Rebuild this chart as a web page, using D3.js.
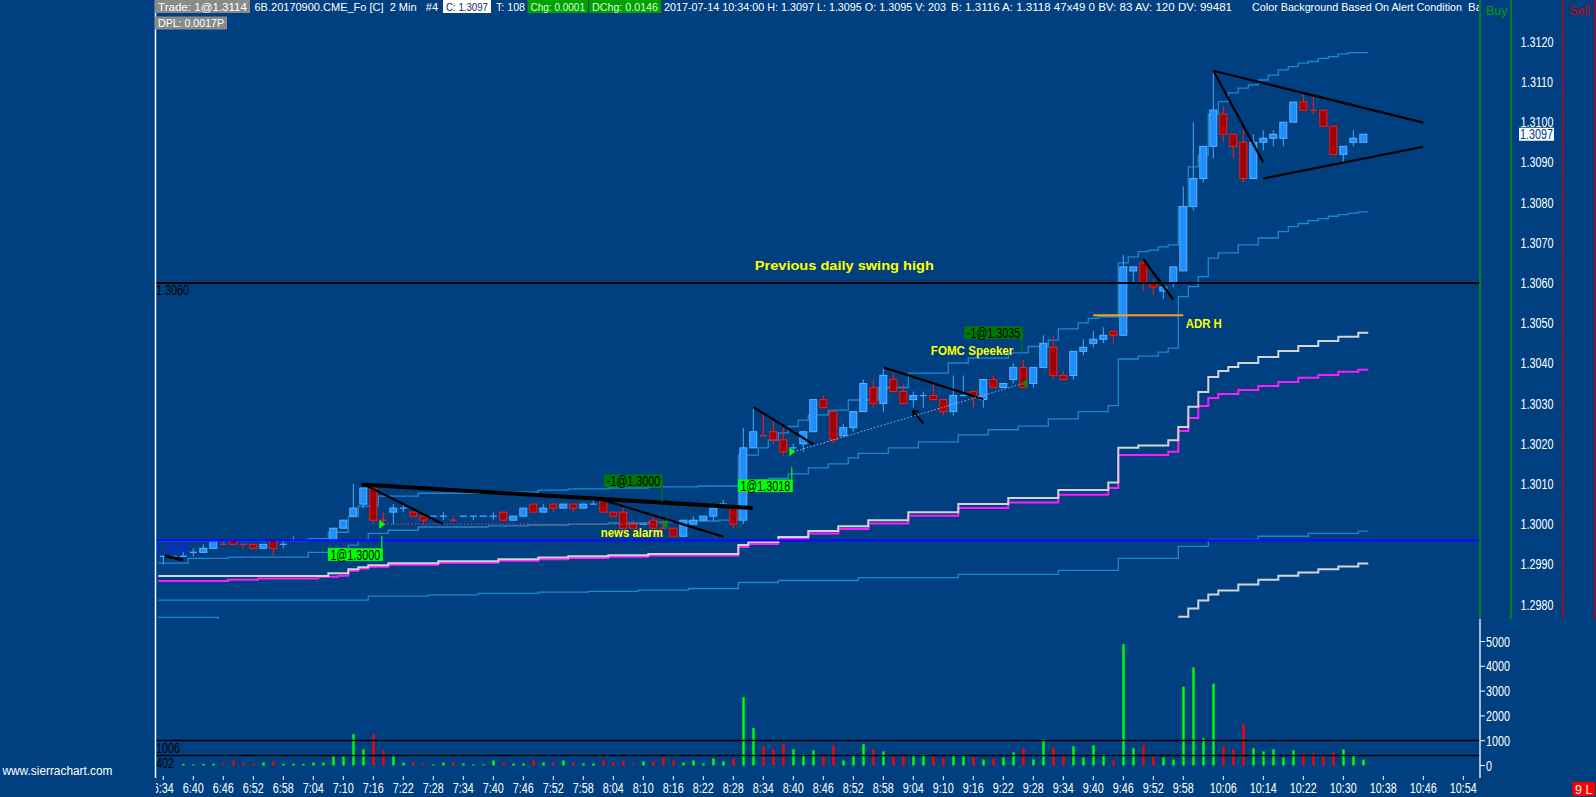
<!DOCTYPE html>
<html>
<head>
<meta charset="utf-8">
<title>6B 2 Min</title>
<script src="https://cdn.jsdelivr.net/npm/d3@7"></script>
<style>
  html, body { margin: 0; padding: 0; background: #004080; overflow: hidden; }
  svg { display: block; }
  text { font-family: "Liberation Sans", Arial, sans-serif; white-space: pre; }
</style>
</head>
<body>
<svg id="chart" width="1596" height="797"></svg>
<script>
// 2 minute bars, first bar 6:34 (394 minutes after midnight)
const firstBarMin = 394;

const open = [1.2992,1.2992,1.2992,1.2993,1.2993,1.2994,1.2995,1.2996,1.2995,1.2995,
  1.2994,1.2996,1.2995,1.2996,1.2996,1.2996,1.2996,1.2996,1.2999,1.3002,
  1.3005,1.3009,1.3001,1.3003,1.3004,1.3003,1.3002,1.3002,1.3002,1.3001,
  1.3002,1.3002,1.3002,1.3002,1.3003,1.3001,1.3002,1.3005,1.3003,1.3005,
  1.3004,1.3005,1.3004,1.3005,1.3006,1.3003,1.3003,1.3000,1.3000,1.3001,
  1.2999,1.2999,1.2997,1.3000,1.3001,1.3002,1.3005,1.3004,1.3001,1.3019,
  1.3022,1.3023,1.3021,1.3019,1.3020,1.3023,1.3031,1.3028,1.3022,1.3024,
  1.3028,1.3034,1.3030,1.3036,1.3033,1.3031,1.3032,1.3032,1.3031,1.3028,
  1.3032,1.3033,1.3031,1.3036,1.3034,1.3036,1.3039,1.3035,1.3039,1.3044,
  1.3037,1.3037,1.3043,1.3045,1.3046,1.3048,1.3047,1.3063,1.3065,1.3060,
  1.3058,1.3060,1.3063,1.3079,1.3086,1.3094,1.3102,1.3097,1.3095,1.3086,
  1.3095,1.3096,1.3096,1.3100,1.3105,1.3103,1.3103,1.3099,1.3092,1.3095,
  1.3095];
const high = [1.2992,1.2992,1.2993,1.2994,1.2995,1.2996,1.2996,1.2996,1.2995,1.2995,
  1.2995,1.2996,1.2996,1.2997,1.2996,1.2996,1.2996,1.2999,1.3001,1.3010,
  1.3009,1.3010,1.3003,1.3005,1.3005,1.3003,1.3002,1.3002,1.3003,1.3002,
  1.3002,1.3002,1.3002,1.3003,1.3003,1.3002,1.3004,1.3005,1.3005,1.3005,
  1.3005,1.3005,1.3005,1.3006,1.3006,1.3003,1.3004,1.3001,1.3000,1.3002,
  1.3001,1.2999,1.3001,1.3002,1.3002,1.3005,1.3006,1.3004,1.3024,1.3029,
  1.3028,1.3026,1.3024,1.3020,1.3023,1.3031,1.3032,1.3028,1.3025,1.3028,
  1.3036,1.3036,1.3039,1.3038,1.3035,1.3033,1.3033,1.3035,1.3031,1.3037,
  1.3037,1.3033,1.3036,1.3037,1.3035,1.3040,1.3041,1.3039,1.3047,1.3047,
  1.3038,1.3043,1.3046,1.3048,1.3049,1.3048,1.3067,1.3064,1.3066,1.3061,
  1.3059,1.3064,1.3084,1.3100,1.3094,1.3113,1.3104,1.3097,1.3098,1.3097,
  1.3098,1.3098,1.3100,1.3105,1.3107,1.3107,1.3103,1.3099,1.3094,1.3098,
  1.3097];
const low = [1.2990,1.2991,1.2992,1.2992,1.2993,1.2994,1.2995,1.2995,1.2994,1.2994,
  1.2994,1.2992,1.2994,1.2996,1.2996,1.2996,1.2996,1.2996,1.2999,1.3002,
  1.3004,1.3000,1.3000,1.3000,1.3003,1.3002,1.3000,1.3002,1.3001,1.3001,
  1.3002,1.3001,1.3002,1.3001,1.3001,1.3001,1.3002,1.3003,1.3003,1.3003,
  1.3004,1.3003,1.3004,1.3005,1.3003,1.3002,1.2999,1.2999,1.3000,1.2999,
  1.2999,1.2997,1.2997,1.3000,1.3001,1.3001,1.3005,1.2999,1.3000,1.3019,
  1.3022,1.3020,1.3017,1.3018,1.3018,1.3023,1.3029,1.3020,1.3022,1.3023,
  1.3028,1.3029,1.3028,1.3033,1.3030,1.3029,1.3029,1.3031,1.3027,1.3027,
  1.3032,1.3029,1.3029,1.3034,1.3034,1.3035,1.3034,1.3034,1.3039,1.3036,
  1.3036,1.3036,1.3042,1.3044,1.3045,1.3045,1.3047,1.3060,1.3058,1.3057,
  1.3056,1.3059,1.3063,1.3078,1.3085,1.3091,1.3095,1.3091,1.3085,1.3086,
  1.3093,1.3094,1.3094,1.3100,1.3103,1.3102,1.3099,1.3092,1.3090,1.3094,
  1.3095];
const close = [1.2992,1.2992,1.2992,1.2993,1.2994,1.2996,1.2995,1.2995,1.2995,1.2994,
  1.2995,1.2994,1.2995,1.2996,1.2996,1.2996,1.2996,1.2999,1.3001,1.3004,
  1.3009,1.3001,1.3001,1.3004,1.3004,1.3002,1.3001,1.3002,1.3002,1.3001,
  1.3002,1.3002,1.3002,1.3002,1.3001,1.3002,1.3004,1.3003,1.3004,1.3004,
  1.3005,1.3004,1.3005,1.3005,1.3003,1.3002,1.2999,1.2999,1.3000,1.2999,
  1.2999,1.2997,1.3001,1.3001,1.3002,1.3004,1.3005,1.3000,1.3019,1.3023,
  1.3022,1.3021,1.3018,1.3019,1.3023,1.3031,1.3029,1.3021,1.3024,1.3028,
  1.3035,1.3030,1.3037,1.3033,1.3030,1.3032,1.3032,1.3031,1.3028,1.3032,
  1.3032,1.3032,1.3036,1.3034,1.3035,1.3039,1.3034,1.3039,1.3045,1.3037,
  1.3036,1.3043,1.3044,1.3046,1.3047,1.3047,1.3064,1.3064,1.3060,1.3059,
  1.3059,1.3064,1.3079,1.3086,1.3094,1.3103,1.3097,1.3094,1.3086,1.3095,
  1.3096,1.3097,1.3100,1.3105,1.3103,1.3103,1.3099,1.3092,1.3094,1.3096,
  1.3097];
const volume = [0,0,68,41,68,68,68,204,122,68,
  122,163,68,68,68,122,122,367,367,1264,
  652,1264,611,367,109,122,68,41,122,122,
  82,41,41,204,122,82,82,204,122,122,
  204,122,82,82,204,122,204,82,163,163,
  326,204,122,204,82,285,163,285,2758,1508,
  774,652,856,652,448,611,380,815,204,380,
  856,652,571,380,380,380,448,380,285,380,
  380,326,245,285,326,530,693,245,1060,734,
  448,774,326,815,448,204,4891,693,815,380,
  326,245,3179,3954,1100,3302,774,652,1671,693,
  571,652,326,611,489,489,380,530,652,380,
  245];

// study lines, stepped: [bar index where the value starts, price]
const vwapLine = [[0,1.29871],[17,1.29878],[19,1.29888],[20,1.29893],[21,1.29898],[23,1.29903],[28,1.29908],
  [34,1.29913],[38,1.29917],[41,1.29920],[45,1.29923],[49,1.29926],[58,1.29948],[59,1.29956],[62,1.29968],
  [65,1.29983],[68,1.29995],[71,1.30010],[75,1.30030],[80,1.30050],[85,1.30065],[90,1.30085],[95,1.30104],
  [96,1.30190],[98,1.30196],[101,1.30209],[102,1.30242],[103,1.30292],[104,1.30329],[105,1.30366],
  [106,1.30381],[107,1.30391],[108,1.30401],[110,1.30416],[112,1.30431],[114,1.30443],[116,1.30456],
  [118,1.30466],[120,1.30476]];
const vwapAlt = [[0,1.29859],[7,1.29862],[10,1.29865],[16,1.29869],[18,1.29872],[19,1.29884],[20,1.29890],
  [21,1.29894],[23,1.29899],[28,1.29904],[34,1.29909],[38,1.29913],[41,1.29916],[45,1.29919],[49,1.29922],
  [58,1.29943],[59,1.29951],[62,1.29963],[65,1.29977],[68,1.29988],[71,1.30002],[75,1.30021],[80,1.30040],
  [85,1.30054],[90,1.30073],[95,1.30090],[96,1.30172],[101,1.30180],[102,1.30232],[103,1.30264],
  [104,1.30294],[105,1.30314],[106,1.30324],[108,1.30334],[110,1.30344],[112,1.30354],[114,1.30364],
  [116,1.30371],[118,1.30379],[120,1.30384]];
const vwapLower = [[102,1.29770],[103,1.29790],[104,1.29810],[105,1.29825],[106,1.29835],[108,1.29850],
  [110,1.29862],[112,1.29872],[114,1.29880],[116,1.29888],[118,1.29895],[120,1.29902]];
const bandUpper = [[0,1.29958],[15,1.29964],[17,1.29980],[19,1.30019],[20,1.30045],[22,1.30070],[26,1.30077],
  [33,1.30080],[38,1.30085],[41,1.30088],[45,1.30090],[49,1.30093],[54,1.30095],[58,1.30172],[60,1.30190],
  [61,1.30209],[62,1.30227],[63,1.30243],[64,1.30259],[65,1.30272],[67,1.30284],[69,1.30309],[72,1.30340],
  [75,1.30376],[79,1.30401],[81,1.30413],[85,1.30426],[87,1.30442],[89,1.30458],[90,1.30486],[92,1.30501],
  [93,1.30512],[94,1.30516],[96,1.30650],[97,1.30665],[98,1.30678],[99,1.30682],[100,1.30690],[101,1.30695],
  [102,1.30790],[103,1.30889],[104,1.30918],[105,1.31020],[106,1.31051],[107,1.31073],[108,1.31085],
  [109,1.31093],[110,1.31105],[111,1.31117],[112,1.31130],[113,1.31138],[114,1.31147],[115,1.31151],
  [116,1.31159],[117,1.31163],[118,1.31170],[119,1.31173]];
const bandLower = [[0,1.29903],[3,1.29915],[7,1.29918],[15,1.29930],[17,1.29940],[19,1.29948],[20,1.29960],
  [21,1.29977],[23,1.29985],[26,1.29993],[33,1.29996],[37,1.29998],[41,1.30000],[45,1.30003],[49,1.30005],
  [53,1.30008],[56,1.30010],[58,1.30100],[60,1.30110],[61,1.30114],[63,1.30125],[65,1.30140],[67,1.30150],
  [69,1.30165],[70,1.30176],[73,1.30190],[76,1.30205],[80,1.30222],[83,1.30235],[86,1.30244],[89,1.30262],
  [92,1.30280],[95,1.30295],[96,1.30411],[98,1.30418],[100,1.30428],[101,1.30438],[102,1.30566],
  [103,1.30591],[104,1.30616],[105,1.30662],[106,1.30675],[108,1.30695],[110,1.30712],[112,1.30728],
  [113,1.30740],[114,1.30748],[115,1.30755],[116,1.30760],[117,1.30766],[118,1.30770],[119,1.30774],
  [120,1.30777]];
const bandLower2 = [[0,1.29811],[21,1.29821],[27,1.29824],[32,1.29828],[38,1.29831],[43,1.29833],[48,1.29836],
  [53,1.29840],[58,1.29855],[62,1.29860],[70,1.29867],[80,1.29875],[90,1.29885],[96,1.29915],[102,1.29945],
  [105,1.29962],[110,1.29970],[115,1.29977],[120,1.29983]];
const bandLower3 = [[0,1.29768],[6,1.29740]];

// drawn levels and tools (time in minutes, price)
const blueLevel = 1.2996;
const swingHigh = 1.3060;
const adrHigh = 1.3052;
const adrSpan = [580, 598];
const trendMain = [[433.6, 1.30099], [511.9, 1.30040]];
const trendLines = [
  [[394.3, 1.29921], [398, 1.29911]],
  [[434, 1.30100], [450, 1.30000]],
  [[482, 1.30060], [506, 1.29969]],
  [[512, 1.30291], [524, 1.30199]],
  [[538, 1.30390], [558, 1.30311]],
  [[590, 1.30659], [596, 1.30559]],
  [[604, 1.31128], [614, 1.30900]],
  [[604, 1.31128], [646, 1.30999]],
  [[614, 1.30860], [646, 1.30939]]
];
const arrowLine = [[546, 1.30251], [543.9, 1.30282]];
const trades = [
  { label: '1@1.3000', t: 438, p: 1.3000, entry: true },
  { label: '-1@1.3000', t: 494, p: 1.3000, entry: false },
  { label: '1@1.3018', t: 520, p: 1.3018, entry: true },
  { label: '-1@1.3035', t: 566, p: 1.3035, entry: false }
];
const notes = [
  { text: 'Previous daily swing high', t: 512.3, p: 1.30632 },
  { text: 'news alarm', t: 481.5, p: 1.29968 },
  { text: 'FOMC Speeker', t: 547.5, p: 1.30422 },
  { text: 'ADR H', t: 598.5, p: 1.30488 }
];
const volLevels = [1006, 402];

const priceTicks = [1.2980,1.2990,1.3000,1.3010,1.3020,1.3030,1.3040,1.3050,1.3060,1.3070,1.3080,1.3090,1.3100,1.3110,1.3120];
const volTicks = [0, 1000, 2000, 3000, 4000, 5000];
const timeLabels = ['6:34','6:40','6:46','6:52','6:58','7:04','7:10','7:16','7:22','7:28','7:34','7:40','7:46',
  '7:52','7:58','8:04','8:10','8:16','8:22','8:28','8:34','8:40','8:46','8:52','8:58','9:04','9:10','9:16',
  '9:22','9:28','9:34','9:40','9:46','9:52','9:58','10:06','10:14','10:22','10:30','10:38','10:46','10:54'];

const header1 = [
  { text: 'Trade: 1@1.3114', x0: 155, x1: 250, bg: '#8a8a8a', fg: '#ffffff' },
  { text: '6B.20170900.CME_Fo [C]  2 Min   #4', x0: 254.5, x1: 438, fg: '#ffffff' },
  { text: 'C: 1.3097', x0: 443, x1: 491, bg: '#ffffff', fg: '#0a2a6a' },
  { text: 'T: 108', x0: 496, x1: 525, fg: '#ffffff' },
  { text: 'Chg: 0.0001', x0: 527.5, x1: 588, bg: '#00a000', fg: '#d8ffd8' },
  { text: 'DChg: 0.0146', x0: 589, x1: 661, bg: '#00a000', fg: '#d8ffd8' },
  { text: '2017-07-14 10:34:00 H: 1.3097 L: 1.3095 O: 1.3095 V: 203', x0: 664, x1: 946, fg: '#ffffff' },
  { text: 'B: 1.3116 A: 1.3118 47x49 0 BV: 83 AV: 120 DV: 99481', x0: 951, x1: 1232, fg: '#ffffff' },
  { text: 'Color Background Based On Alert Condition', x0: 1252, x1: 1462, fg: '#ffffff' },
  { text: 'Ba', x0: 1468, x1: 1482, fg: '#ffffff' }
];
const header2 = [{ text: 'DPL: 0.0017P', x0: 155, x1: 227, bg: '#8a8a8a', fg: '#ffffff' }];

// ---------------------------------------------------------------
const svg = d3.select('#chart');
const left = 155, right = 1480, paneBottom = 619, volTop = 620, volBottom = 778;
const lastBar = open.length - 1;

const x = d3.scaleLinear().domain([394, 654]).range([163.3, 1463.3]);
const y = d3.scaleLinear().domain([1.2980, 1.3120]).range([604.6, 41.8]);
const yv = d3.scaleLinear().domain([0, 5000]).range([765.5, 641.5]);

const bars = open.map((o, i) => ({ t: firstBarMin + 2 * i, o, h: high[i], l: low[i], c: close[i], v: volume[i] }));
bars.forEach((d, i) => {
  const p = bars[i - 1];
  if (d.c !== d.o) d.up = d.c > d.o;
  else if (!p) d.up = true;
  else if (d.c !== p.c) d.up = d.c > p.c;
  else d.up = p.up;
});

// the chart font is narrow, so squeeze Liberation Sans sideways
const NARROW = 0.77;
function squeeze(sel, k) {
  sel.each(function () {
    const w = this.getComputedTextLength();
    this.setAttribute('textLength', w * (k || NARROW));
    this.setAttribute('lengthAdjust', 'spacingAndGlyphs');
  });
}

const defs = svg.append('defs');
defs.append('clipPath').attr('id', 'clipPrice').append('rect')
  .attr('x', left).attr('y', 0).attr('width', right - left).attr('height', paneBottom);
defs.append('clipPath').attr('id', 'clipVol').append('rect')
  .attr('x', left).attr('y', volTop).attr('width', right - left).attr('height', volBottom - volTop);
defs.append('clipPath').attr('id', 'clipHead').append('rect')
  .attr('x', 0).attr('y', 0).attr('width', 1479).attr('height', 40);
defs.append('clipPath').attr('id', 'clipTime').append('rect')
  .attr('x', left + 1).attr('y', volBottom - 5).attr('width', right - left).attr('height', 30);

const price = svg.append('g').attr('clip-path', 'url(#clipPrice)');
const vol = svg.append('g').attr('clip-path', 'url(#clipVol)');

// stepped study lines
const stepLine = d3.line().curve(d3.curveStepAfter);
function stepPoints(pts) {
  const out = pts.map(([i, p]) => [x(firstBarMin + 2 * i - 1), y(p)]);
  out.push([x(firstBarMin + 2 * lastBar + 1), out[out.length - 1][1]]);
  return out;
}
[bandLower3, bandLower2, bandLower, bandUpper].forEach(b => {
  price.append('path').attr('d', stepLine(stepPoints(b)))
    .attr('fill', 'none').attr('stroke', '#1e88cc').attr('stroke-width', 1.3);
});
price.append('path').attr('d', stepLine(stepPoints(vwapLower)))
  .attr('fill', 'none').attr('stroke', '#d4d4d4').attr('stroke-width', 2);
price.append('path').attr('d', stepLine(stepPoints(vwapAlt)))
  .attr('fill', 'none').attr('stroke', '#ff1aff').attr('stroke-width', 2);
price.append('path').attr('d', stepLine(stepPoints(vwapLine)))
  .attr('fill', 'none').attr('stroke', '#d4d4d4').attr('stroke-width', 2);

// candles
const candles = price.selectAll('g.candle')
  .data(bars)
  .join('g')
  .attr('class', 'candle')
  .attr('transform', d => `translate(${x(d.t)},0)`);

candles.filter(d => d.h !== d.l)
  .append('line')
  .attr('y1', d => y(d.h)).attr('y2', d => y(d.l))
  .attr('stroke', d => d.up ? '#4aa8ff' : '#ff1a1a')
  .attr('stroke-width', 1);

candles.filter(d => d.o !== d.c)
  .append('rect')
  .attr('x', -3.5).attr('width', 7)
  .attr('y', d => y(Math.max(d.o, d.c)))
  .attr('height', d => Math.abs(y(d.o) - y(d.c)))
  .attr('fill', d => d.up ? '#1e8fff' : '#a00000')
  .attr('stroke', d => d.up ? '#5ab4ff' : '#ff1a1a')
  .attr('stroke-width', 1);

candles.filter(d => d.o === d.c)
  .append('line')
  .attr('x1', -3.5).attr('x2', 3.5)
  .attr('y1', d => y(d.c)).attr('y2', d => y(d.c))
  .attr('stroke', d => d.up ? '#4aa8ff' : '#ff1a1a')
  .attr('stroke-width', 1.3);

// ADR high
price.append('line')
  .attr('x1', x(adrSpan[0])).attr('x2', x(adrSpan[1]))
  .attr('y1', y(adrHigh)).attr('y2', y(adrHigh))
  .attr('stroke', '#ff9a22').attr('stroke-width', 2);

// horizontal levels
price.append('line').attr('x1', left).attr('x2', right)
  .attr('y1', y(swingHigh)).attr('y2', y(swingHigh))
  .attr('stroke', '#000').attr('stroke-width', 2);
price.append('line').attr('x1', left).attr('x2', right)
  .attr('y1', y(blueLevel)).attr('y2', y(blueLevel))
  .attr('stroke', '#0a0aff').attr('stroke-width', 2.2);

// trend lines
const seg = d3.line().x(d => x(d[0])).y(d => y(d[1]));
price.append('path').attr('d', seg(trendMain))
  .attr('stroke', '#000').attr('stroke-width', 4).attr('fill', 'none');
price.selectAll('path.trend')
  .data(trendLines)
  .join('path')
  .attr('class', 'trend')
  .attr('d', seg)
  .attr('stroke', '#000')
  .attr('stroke-width', (d, i) => i === 0 ? 3 : 2.2)
  .attr('fill', 'none');

// small arrow
const [aFrom, aTo] = arrowLine.map(d => [x(d[0]), y(d[1])]);
price.append('line').attr('x1', aFrom[0]).attr('y1', aFrom[1]).attr('x2', aTo[0]).attr('y2', aTo[1])
  .attr('stroke', '#000').attr('stroke-width', 2);
price.append('path')
  .attr('d', `M${aTo[0]},${aTo[1]} l1,6 M${aTo[0]},${aTo[1]} l6,1`)
  .attr('stroke', '#000').attr('stroke-width', 2).attr('fill', 'none');

// trade lines and markers
const tradePairs = [[trades[0], trades[1], '#ff3030'], [trades[2], trades[3], '#aab6c6']];
tradePairs.forEach(([a, b, col]) => {
  price.append('line')
    .attr('x1', x(a.t)).attr('y1', y(a.p)).attr('x2', x(b.t)).attr('y2', y(b.p))
    .attr('stroke', col).attr('stroke-width', 1).attr('stroke-dasharray', '1.5,2');
});
trades.forEach(d => {
  const px = x(d.t), py = y(d.p);
  const pts = d.entry
    ? [[px - 4, py - 4.5], [px + 2, py], [px - 4, py + 4.5]]
    : [[px + 4, py - 4.5], [px - 2, py], [px + 4, py + 4.5]];
  price.append('path').attr('d', 'M' + pts.join('L') + 'Z')
    .attr('fill', d.entry ? '#00ff00' : '#009000');
});

// fill labels for the trades
const labelOffsets = [24, -37, 27.6, -44.5];
const stemLength = [12.5, 14.5, 12.3, 12.7];
trades.forEach((d, i) => {
  const px = x(d.t), py = y(d.p);
  const g = price.append('g');
  const txt = g.append('text')
    .attr('font-size', 14).attr('fill', '#000').text(d.label);
  const w0 = txt.node().getComputedTextLength() * NARROW;
  txt.attr('textLength', w0).attr('lengthAdjust', 'spacingAndGlyphs');
  const w = w0 + 5;
  const boxRight = px - 0.5;
  const boxTop = labelOffsets[i] > 0 ? py + labelOffsets[i] : py + labelOffsets[i] - 12.7;
  g.insert('rect', 'text')
    .attr('x', boxRight - w).attr('y', boxTop).attr('width', w).attr('height', 12.7)
    .attr('fill', d.entry ? '#00ff00' : '#007a00');
  txt.attr('x', boxRight - w + 2.5).attr('y', boxTop + 11.3);
  const stemTop = labelOffsets[i] > 0 ? boxTop - stemLength[i] : boxTop + 12.7;
  g.append('line')
    .attr('x1', boxRight - 1).attr('x2', boxRight - 1)
    .attr('y1', stemTop).attr('y2', stemTop + stemLength[i])
    .attr('stroke', d.entry ? '#00ff00' : '#007a00').attr('stroke-width', 1.2);
});

// yellow notes, widths as drawn in the chart
const noteWidths = [179, 62, 82.5, 36];
price.selectAll('text.note')
  .data(notes)
  .join('text')
  .attr('class', 'note')
  .attr('x', d => x(d.t)).attr('y', d => y(d.p))
  .attr('fill', '#ffff00').attr('font-weight', 'bold').attr('font-size', 12.5)
  .attr('textLength', (d, i) => noteWidths[i]).attr('lengthAdjust', 'spacingAndGlyphs')
  .text(d => d.text);

// level labels at the left
const lvl1 = svg.append('text').attr('x', 156).attr('y', y(swingHigh) + 12)
  .attr('font-size', 14).attr('fill', '#000').text(d3.format('.4f')(swingHigh));
squeeze(lvl1);
const lvl2 = svg.append('text').attr('x', 156).attr('y', y(blueLevel) + 13)
  .attr('font-size', 14).attr('fill', '#1a1aff').text(d3.format('.4f')(blueLevel));
squeeze(lvl2);

// volume pane
vol.selectAll('rect.vbar')
  .data(bars.filter(d => d.v > 0))
  .join('rect')
  .attr('class', 'vbar')
  .attr('x', d => x(d.t) - 1).attr('width', 2.4)
  .attr('y', d => yv(d.v)).attr('height', d => yv(0) - yv(d.v))
  .attr('fill', d => d.up ? '#00ff00' : '#ff0000');

vol.selectAll('line.vlevel')
  .data(volLevels)
  .join('line')
  .attr('class', 'vlevel')
  .attr('x1', left).attr('x2', right)
  .attr('y1', d => yv(d)).attr('y2', d => yv(d))
  .attr('stroke', '#000').attr('stroke-width', 1.5);
const vlt = vol.selectAll('text.vlevel')
  .data(volLevels)
  .join('text')
  .attr('class', 'vlevel')
  .attr('x', 156).attr('y', d => yv(d) + 12.3)
  .attr('font-size', 14).attr('fill', '#000')
  .text(d => d);
squeeze(vlt);

// frame lines
svg.append('line').attr('x1', left + 0.5).attr('x2', left + 0.5).attr('y1', 0).attr('y2', volBottom)
  .attr('stroke', '#fff').attr('stroke-width', 1.5);
svg.append('line').attr('x1', right).attr('x2', right).attr('y1', 0).attr('y2', paneBottom)
  .attr('stroke', '#00a000').attr('stroke-width', 1.3);
svg.append('line').attr('x1', 1511).attr('x2', 1511).attr('y1', 0).attr('y2', paneBottom)
  .attr('stroke', '#00a000').attr('stroke-width', 1.3);
svg.append('line').attr('x1', 1563).attr('x2', 1563).attr('y1', 0).attr('y2', paneBottom)
  .attr('stroke', '#d00000').attr('stroke-width', 1.3);
svg.append('line').attr('x1', 1594.5).attr('x2', 1594.5).attr('y1', 0).attr('y2', paneBottom)
  .attr('stroke', '#d00000').attr('stroke-width', 1.3);
svg.append('line').attr('x1', right).attr('x2', right).attr('y1', paneBottom).attr('y2', volBottom)
  .attr('stroke', '#fff').attr('stroke-width', 1.3);

svg.append('text').attr('x', 1486).attr('y', 15).attr('font-size', 12.5).attr('fill', '#00a000').text('Buy');
svg.append('text').attr('x', 1569).attr('y', 15).attr('font-size', 12.5).attr('fill', '#d00000').text('Sell');

// price axis (the label under the last price box is covered, as in the chart)
const lastClose = close[lastBar];
const pl = svg.selectAll('text.plabel')
  .data(priceTicks.filter(d => Math.abs(y(d) - y(lastClose)) > 8))
  .join('text')
  .attr('class', 'plabel')
  .attr('x', 1537).attr('y', d => y(d) + 5)
  .attr('text-anchor', 'middle').attr('font-size', 14).attr('fill', '#fff')
  .text(d => d3.format('.4f')(d));
squeeze(pl);

svg.append('rect').attr('x', 1519).attr('y', y(lastClose) - 6.5).attr('width', 35).attr('height', 13)
  .attr('fill', '#fff');
const lc = svg.append('text').attr('x', 1536.5).attr('y', y(lastClose) + 5)
  .attr('text-anchor', 'middle').attr('font-size', 14).attr('fill', '#00407f')
  .text(d3.format('.4f')(lastClose));
squeeze(lc);

// the covered tick still peeks out above the box
const covered = priceTicks.filter(d => Math.abs(y(d) - y(lastClose)) <= 8);
const peek = svg.append('g');
peek.append('clipPath').attr('id', 'clipPeek').append('rect')
  .attr('x', 1515).attr('y', 0).attr('width', 45).attr('height', y(lastClose) - 6.5);
const pk = peek.selectAll('text')
  .data(covered)
  .join('text')
  .attr('clip-path', 'url(#clipPeek)')
  .attr('x', 1537).attr('y', d => y(d) + 5)
  .attr('text-anchor', 'middle').attr('font-size', 14).attr('fill', '#fff')
  .text(d => d3.format('.4f')(d));
squeeze(pk);

// volume axis
svg.selectAll('line.vtick')
  .data(volTicks)
  .join('line')
  .attr('class', 'vtick')
  .attr('x1', right).attr('x2', right + 5)
  .attr('y1', d => yv(d)).attr('y2', d => yv(d))
  .attr('stroke', '#fff');
const vl = svg.selectAll('text.vlabel')
  .data(volTicks)
  .join('text')
  .attr('class', 'vlabel')
  .attr('x', right + 6).attr('y', d => yv(d) + 5)
  .attr('font-size', 14).attr('fill', '#fff')
  .text(d => d);
squeeze(vl);

// time axis
const toMin = s => { const [h, m] = s.split(':').map(Number); return h * 60 + m; };
const tg = svg.append('g').attr('clip-path', 'url(#clipTime)');
tg.selectAll('line.ttick')
  .data(timeLabels)
  .join('line')
  .attr('class', 'ttick')
  .attr('x1', d => x(toMin(d))).attr('x2', d => x(toMin(d)))
  .attr('y1', 776).attr('y2', 780)
  .attr('stroke', '#fff');
const tl = tg.selectAll('text.tlabel')
  .data(timeLabels)
  .join('text')
  .attr('class', 'tlabel')
  .attr('x', d => x(toMin(d))).attr('y', 793)
  .attr('text-anchor', 'middle').attr('font-size', 14).attr('fill', '#fff')
  .text(d => d);
squeeze(tl);

// header
const head = svg.append('g').attr('clip-path', 'url(#clipHead)');
function headerRow(items, top, bottom, base) {
  items.forEach(d => {
    if (d.bg) {
      head.append('rect').attr('x', d.x0).attr('y', top).attr('width', d.x1 - d.x0).attr('height', bottom - top)
        .attr('fill', d.bg);
    }
    const pad = d.bg ? 3 : 0;
    head.append('text')
      .attr('x', d.x0 + pad).attr('y', base)
      .attr('font-size', 11).attr('fill', d.fg)
      .attr('textLength', d.x1 - d.x0 - 2 * pad).attr('lengthAdjust', 'spacingAndGlyphs')
      .text(d.text);
  });
}
headerRow(header1, 0, 13, 10.5);
headerRow(header2, 16.5, 29.5, 27);

// footer
const site = svg.append('text').attr('x', 2.5).attr('y', 775).attr('font-size', 12.5).attr('fill', '#fff')
  .text('www.sierrachart.com');
site.attr('textLength', 110).attr('lengthAdjust', 'spacingAndGlyphs');
svg.append('rect').attr('x', 1572.5).attr('y', 782).attr('width', 22.5).attr('height', 14).attr('fill', '#ff0000');
svg.append('text').attr('x', 1583.7).attr('y', 794).attr('text-anchor', 'middle')
  .attr('font-size', 12.5).attr('fill', '#fff').text('9 L');
</script>
</body>
</html>
